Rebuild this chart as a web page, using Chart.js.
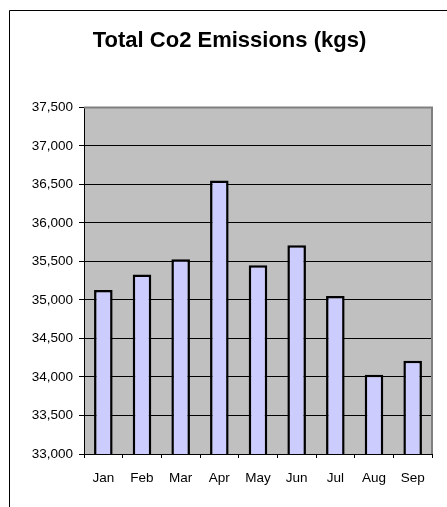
<!DOCTYPE html>
<html>
<head>
<meta charset="utf-8">
<script src="https://cdn.jsdelivr.net/npm/chart.js@4"></script>
<style>
  html, body { margin: 0; padding: 0; background: #fff; }
  #wrap { width: 447px; height: 507px; }
</style>
</head>
<body>
<div id="wrap"><canvas id="chart" width="447" height="507"></canvas></div>
<script>
const months = ["Jan", "Feb", "Mar", "Apr", "May", "Jun", "Jul", "Aug", "Sep"]
const emissions = [35130, 35330, 35530, 36550, 35450, 35710, 35050, 34030, 34210]
const yMin = 33000
const yMax = 37500
const yStep = 500

const FONT = "'Liberation Sans', Arial, sans-serif"

// grey plot area, the gray top/right plot border and the outer chart frame
const excelLook = {
  id: "excelLook",
  beforeDraw(chart) {
    const { ctx, chartArea: a } = chart
    ctx.save()
    ctx.fillStyle = "#c0c0c0"
    ctx.fillRect(a.left, a.top, a.right - a.left, a.bottom - a.top)
    ctx.restore()
  },
  afterDraw(chart) {
    const { ctx, chartArea: a } = chart
    ctx.save()
    ctx.strokeStyle = "#808080"
    ctx.lineWidth = 2
    ctx.beginPath()
    ctx.moveTo(a.left, a.top)
    ctx.lineTo(a.right, a.top)
    ctx.lineTo(a.right, a.bottom)
    ctx.stroke()
    ctx.strokeStyle = "#000"
    ctx.lineWidth = 1
    ctx.beginPath()
    ctx.moveTo(9.5, chart.height + 1)
    ctx.lineTo(9.5, 10.5)
    ctx.lineTo(chart.width + 1, 10.5)
    ctx.stroke()
    ctx.restore()
  }
}

new Chart(document.getElementById("chart"), {
  type: "bar",
  data: {
    labels: months,
    datasets: [{
      label: "Total Co2 Emissions (kgs)",
      data: emissions,
      backgroundColor: "#ccccff",
      borderColor: "#000",
      borderWidth: 2.5,
      borderSkipped: false,
      categoryPercentage: 1,
      barPercentage: 0.48
    }]
  },
  options: {
    responsive: false,
    animation: false,
    layout: { padding: { left: 27, right: 15, top: 10, bottom: 0 } },
    plugins: {
      legend: { display: false },
      tooltip: { enabled: false },
      title: {
        display: true,
        text: "Total Co2 Emissions (kgs)",
        color: "#000",
        font: { family: FONT, size: 22, weight: "bold" },
        padding: { top: 18, bottom: 53 }
      }
    },
    scales: {
      x: {
        grid: {
          offset: true,
          drawOnChartArea: false,
          tickLength: 4,
          tickColor: "#000"
        },
        border: { color: "#000", width: 1 },
        ticks: {
          color: "#000",
          font: { family: FONT, size: 13.5 },
          padding: 12,
          maxRotation: 0
        },
        afterFit(s) { s.height = 53 }
      },
      y: {
        min: yMin,
        max: yMax,
        grid: {
          color: ctx => (ctx.tick && ctx.tick.value === yMax ? "#808080" : "#000"),
          tickLength: 5,
          tickColor: "#000"
        },
        border: { color: "#000", width: 1 },
        ticks: {
          stepSize: yStep,
          color: "#000",
          font: { family: FONT, size: 13.5 },
          padding: 6,
          callback: v => v.toLocaleString("en-US")
        },
        afterFit(s) { s.width = 57 }
      }
    }
  },
  plugins: [excelLook]
})
</script>
</body>
</html>
